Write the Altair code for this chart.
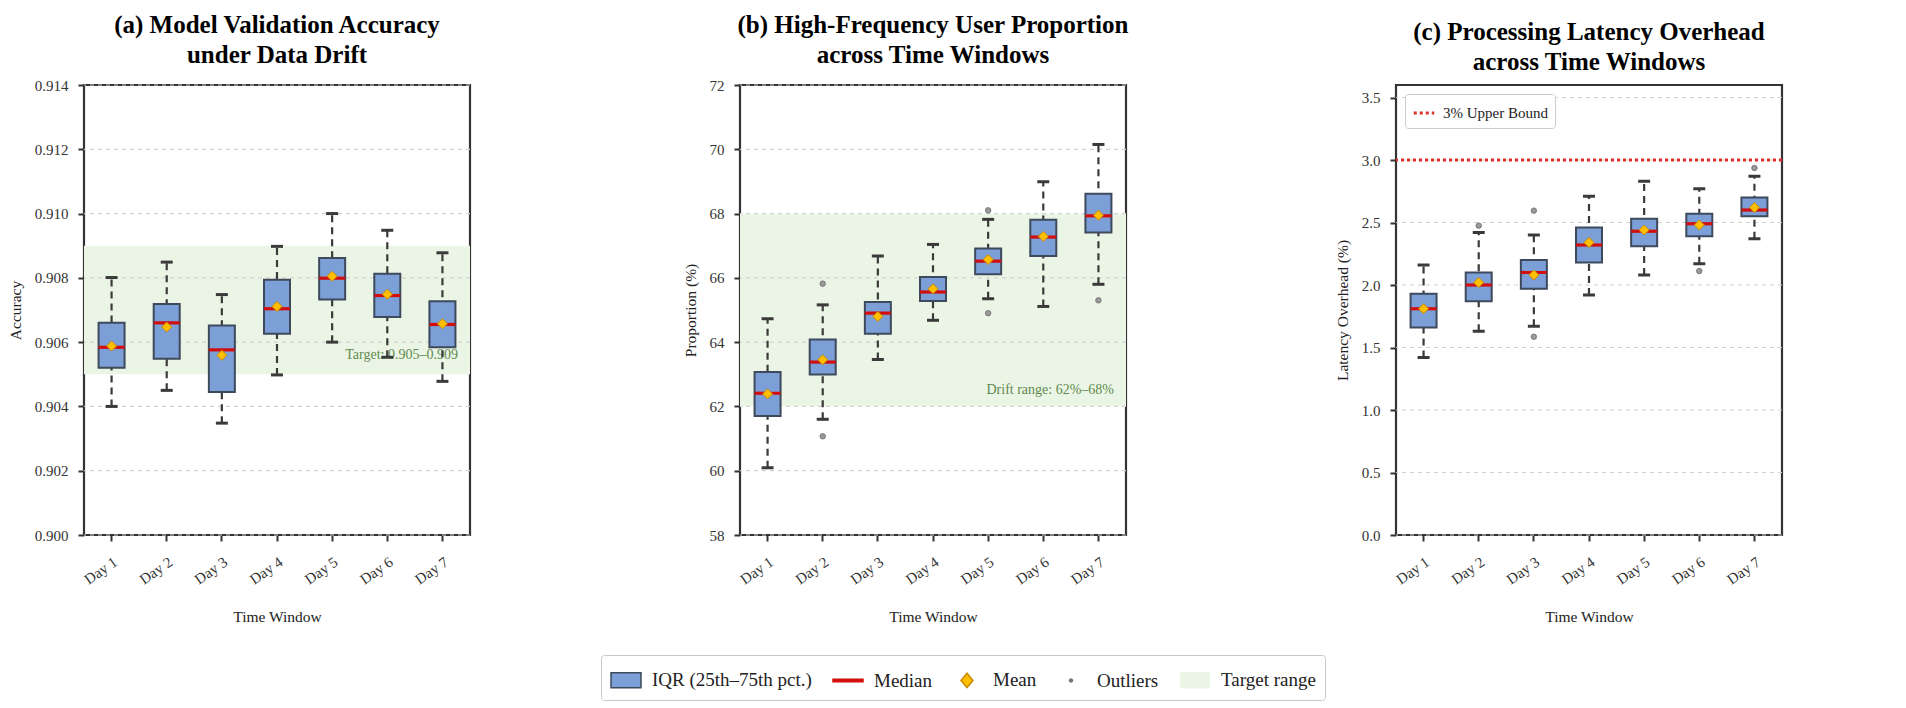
import altair as alt
import pandas as pd

DAYS = ["Day 1", "Day 2", "Day 3", "Day 4", "Day 5", "Day 6", "Day 7"]

# (a) accuracy
ACC_LO = [0.9040, 0.9045, 0.90348, 0.90498, 0.9060, 0.90553, 0.90478]
ACC_Q1 = [0.9052, 0.90548, 0.90445, 0.90626, 0.90733, 0.90678, 0.90584]
ACC_MED = [0.90584, 0.9066, 0.90576, 0.90704, 0.90799, 0.90745, 0.90655]
ACC_Q3 = [0.9066, 0.90719, 0.90652, 0.90794, 0.90862, 0.90813, 0.90727]
ACC_HI = [0.90801, 0.90849, 0.90748, 0.90898, 0.9100, 0.90948, 0.90878]
ACC_MEAN = [0.90588, 0.90647, 0.90559, 0.90711, 0.90805, 0.90749, 0.90657]
ACC_OUT_DAYS = []
ACC_OUT_VALS = []
ACC_TICKS = [0.900, 0.902, 0.904, 0.906, 0.908, 0.910, 0.912, 0.914]
ACC_BAND = [0.905, 0.909]
ACC_BAND_LABEL = "Target: 0.905–0.909"
ACC_BAND_LABEL_Y = 0.9056

# (b) proportion
PROP_LO = [60.09, 61.60, 63.46, 64.68, 65.35, 65.11, 65.80]
PROP_Q1 = [61.70, 62.99, 64.26, 65.28, 66.11, 66.68, 67.41]
PROP_MED = [62.41, 63.38, 64.90, 65.56, 66.52, 67.27, 67.93]
PROP_Q3 = [63.07, 64.08, 65.25, 66.03, 66.91, 67.81, 68.62]
PROP_HI = [64.73, 65.16, 66.68, 67.04, 67.82, 68.99, 70.15]
PROP_MEAN = [62.39, 63.45, 64.80, 65.66, 66.57, 67.29, 67.95]
PROP_OUT_DAYS = ["Day 2", "Day 2", "Day 5", "Day 5", "Day 7"]
PROP_OUT_VALS = [65.82, 61.07, 68.10, 64.90, 65.30]
PROP_TICKS = [58, 60, 62, 64, 66, 68, 70, 72]
PROP_BAND = [62, 68]
PROP_BAND_LABEL = "Drift range: 62%–68%"
PROP_BAND_LABEL_Y = 62.5

# (c) latency
LAT_LO = [1.42, 1.63, 1.67, 1.92, 2.08, 2.17, 2.37]
LAT_Q1 = [1.66, 1.87, 1.97, 2.18, 2.31, 2.39, 2.55]
LAT_MED = [1.81, 2.00, 2.10, 2.32, 2.43, 2.49, 2.60]
LAT_Q3 = [1.93, 2.10, 2.20, 2.46, 2.53, 2.57, 2.70]
LAT_HI = [2.16, 2.42, 2.40, 2.71, 2.83, 2.77, 2.87]
LAT_MEAN = [1.81, 2.02, 2.08, 2.34, 2.44, 2.48, 2.62]
LAT_OUT_DAYS = ["Day 2", "Day 3", "Day 3", "Day 6", "Day 7"]
LAT_OUT_VALS = [2.475, 2.595, 1.586, 2.112, 2.936]
LAT_TICKS = [0.0, 0.5, 1.0, 1.5, 2.0, 2.5, 3.0, 3.5]
LAT_BOUND = [3.0]
LAT_BOUND_LABEL = ["3% Upper Bound"]

LEGEND_ITEMS = ["IQR (25th–75th pct.)", "Median", "Mean", "Outliers", "Target range"]

FONT = "Liberation Serif"
BOX_FILL = "#7b9fd6"
BOX_EDGE = "#3e4a5c"
MED_COLOR = "#d10f0f"
MEAN_FILL = "#ffbf00"
MEAN_EDGE = "#c88a00"
OUT_FILL = "#9a9a9a"
OUT_EDGE = "#6a6a6a"
BAND_FILL = "#ebf5e6"
GRID = "#d2d2d2"
WHISK = "#3a3a3a"
BOUND_RED = "#e0302a"

PANEL_W = 386
PANEL_H = 450


def make_panel(title, ytitle, domain, ticks, fmt, stats, out_days, out_vals,
               band=None, band_label=None, band_label_y=None, extra=None):
    lo, q1, med, q3, hi, mean = stats
    df = pd.DataFrame({"day": DAYS, "lo": lo, "q1": q1, "med": med, "q3": q3, "hi": hi, "mean": mean})
    x = alt.X("day:N", scale=alt.Scale(domain=DAYS, paddingInner=0, paddingOuter=0),
              axis=alt.Axis(title="Time Window", labelAngle=325, labelAlign="right",
                            labelBaseline="top", labelPadding=13, titlePadding=22))
    ysc = alt.Scale(domain=domain, nice=False, zero=False)
    yax = alt.Axis(title=ytitle, values=ticks, format=fmt, labelPadding=10, titlePadding=11)

    def Y(f):
        return alt.Y(f, type="quantitative", scale=ysc, axis=yax)

    layers = []
    if band is not None:
        bdf = pd.DataFrame({"b0": [band[0]], "b1": [band[1]]})
        layers.append(alt.Chart(bdf).mark_rect(fill=BAND_FILL).encode(y=Y("b0"), y2=alt.Y2("b1")))
    gdf = pd.DataFrame({"v": ticks})
    layers.append(alt.Chart(gdf).mark_rule(color=GRID, strokeDash=[4, 4], strokeWidth=1.2).encode(y=Y("v")))
    if band_label is not None:
        tdf = pd.DataFrame({"t": [band_label], "y": [band_label_y]})
        layers.append(alt.Chart(tdf).mark_text(align="right", baseline="middle", font=FONT, fontSize=14,
                                               color="#5f8a4f").encode(
            x=alt.value(PANEL_W - 12), y=Y("y"), text="t:N"))
    base = alt.Chart(df)
    layers.append(base.mark_rule(color=WHISK, strokeWidth=2.2, strokeDash=[7, 5]).encode(
        x=x, y=Y("lo"), y2=alt.Y2("hi")))
    layers.append(base.mark_tick(color=WHISK, size=12, thickness=3, opacity=1).encode(x=x, y=Y("lo")))
    layers.append(base.mark_tick(color=WHISK, size=12, thickness=3, opacity=1).encode(x=x, y=Y("hi")))
    layers.append(base.mark_bar(size=26, fill=BOX_FILL, stroke=BOX_EDGE, strokeWidth=2).encode(
        x=x, y=Y("q1"), y2=alt.Y2("q3")))
    layers.append(base.mark_tick(color=MED_COLOR, size=26, thickness=3.2, opacity=1).encode(x=x, y=Y("med")))
    layers.append(base.mark_point(shape="diamond", filled=True, fill=MEAN_FILL, stroke=MEAN_EDGE,
                                  strokeWidth=1, size=100, opacity=1).encode(x=x, y=Y("mean")))
    if out_days:
        odf = pd.DataFrame({"day": out_days, "v": out_vals})
        layers.append(alt.Chart(odf).mark_point(shape="circle", filled=True, fill=OUT_FILL, stroke=OUT_EDGE,
                                                strokeWidth=0.8, size=30, opacity=1).encode(x=x, y=Y("v")))
    if extra is not None:
        layers.extend(extra(x, Y))
    return alt.layer(*layers).properties(
        width=PANEL_W, height=PANEL_H,
        title=alt.TitleParams(text=title, font=FONT, fontSize=25, fontWeight="bold", color="black",
                              anchor="middle", frame="group", lineHeight=30, offset=10))


def legend_layer(x, Y):
    leg = alt.Legend(title=None, orient="none", legendX=517, legendY=570, direction="horizontal",
                     columns=5, symbolSize=900, symbolStrokeWidth=1.5, symbolOpacity=1,
                     labelFont=FONT, labelFontSize=19, labelColor="#222222", labelOffset=10,
                     columnPadding=18, padding=9, strokeColor="#c8c8c8", fillColor="white",
                     cornerRadius=3)
    shapes = ["M-1,-0.5H1V0.5H-1Z",
              "M-1,-0.08H1V0.08H-1Z",
              "M0,-0.48L0.4,0L0,0.48L-0.4,0Z",
              "M-0.1,0A0.1,0.1,0,1,0,0.1,0A0.1,0.1,0,1,0,-0.1,0Z",
              "M-0.95,-0.5H0.95V0.5H-0.95Z"]
    fills = [BOX_FILL, MED_COLOR, MEAN_FILL, "#777777", BAND_FILL]
    strokes = [BOX_EDGE, MED_COLOR, MEAN_EDGE, "#777777", BAND_FILL]
    ddf = pd.DataFrame({"item": LEGEND_ITEMS, "day": ["Day 1"] * 5, "v": [0.907] * 5})
    return [alt.Chart(ddf).mark_point(filled=True, opacity=0, size=900).encode(
        x=x, y=Y("v"),
        fill=alt.Fill("item:N", scale=alt.Scale(domain=LEGEND_ITEMS, range=fills), legend=leg),
        stroke=alt.Stroke("item:N", scale=alt.Scale(domain=LEGEND_ITEMS, range=strokes), legend=leg),
        shape=alt.Shape("item:N", scale=alt.Scale(domain=LEGEND_ITEMS, range=shapes), legend=leg),
    )]


def bound_layer(x, Y):
    rdf = pd.DataFrame({"v": LAT_BOUND, "lab": LAT_BOUND_LABEL})
    leg = alt.Legend(title=None, orient="top-left", offset=9, fillColor="white", strokeColor="#cccccc",
                     padding=7, cornerRadius=3, symbolType="stroke", symbolDash=[3, 3],
                     symbolStrokeWidth=3, symbolSize=420, labelFont=FONT, labelFontSize=15,
                     labelColor="#222222", labelOffset=7)
    return [alt.Chart(rdf).mark_rule(strokeWidth=3, strokeDash=[3, 3]).encode(
        y=Y("v"),
        color=alt.Color("lab:N", scale=alt.Scale(domain=LAT_BOUND_LABEL, range=[BOUND_RED]), legend=leg))]


pa = make_panel(["(a) Model Validation Accuracy", "under Data Drift"], "Accuracy", [0.900, 0.914],
                ACC_TICKS, ".3f", (ACC_LO, ACC_Q1, ACC_MED, ACC_Q3, ACC_HI, ACC_MEAN),
                ACC_OUT_DAYS, ACC_OUT_VALS, band=ACC_BAND, band_label=ACC_BAND_LABEL,
                band_label_y=ACC_BAND_LABEL_Y, extra=legend_layer)
pb = make_panel(["(b) High-Frequency User Proportion", "across Time Windows"], "Proportion (%)", [58, 72],
                PROP_TICKS, "d", (PROP_LO, PROP_Q1, PROP_MED, PROP_Q3, PROP_HI, PROP_MEAN),
                PROP_OUT_DAYS, PROP_OUT_VALS, band=PROP_BAND, band_label=PROP_BAND_LABEL,
                band_label_y=PROP_BAND_LABEL_Y)
pc = make_panel(["(c) Processing Latency Overhead", "across Time Windows"], "Latency Overhead (%)", [0, 3.6],
                LAT_TICKS, ".1f", (LAT_LO, LAT_Q1, LAT_MED, LAT_Q3, LAT_HI, LAT_MEAN),
                LAT_OUT_DAYS, LAT_OUT_VALS, extra=bound_layer)

chart = alt.hconcat(pa, pb, pc, spacing=270, bounds="flush").resolve_scale(
    fill="independent", stroke="independent", shape="independent", color="independent"
).resolve_legend(
    fill="independent", stroke="independent", shape="independent", color="independent"
).properties(
    padding={"left": 7, "top": 11, "right": 4, "bottom": 4}
).configure_view(
    stroke="#333333", strokeWidth=2.2
).configure_axis(
    labelFont=FONT, labelFontSize=15, labelColor="#333333", titleFont=FONT, titleFontSize=15.5,
    titleFontWeight="normal", titleColor="#222222", tickColor="#333333", tickWidth=2, tickSize=6,
    domain=False, grid=False
)

chart.save("out.html", embed_options={"renderer": "svg", "actions": False})
